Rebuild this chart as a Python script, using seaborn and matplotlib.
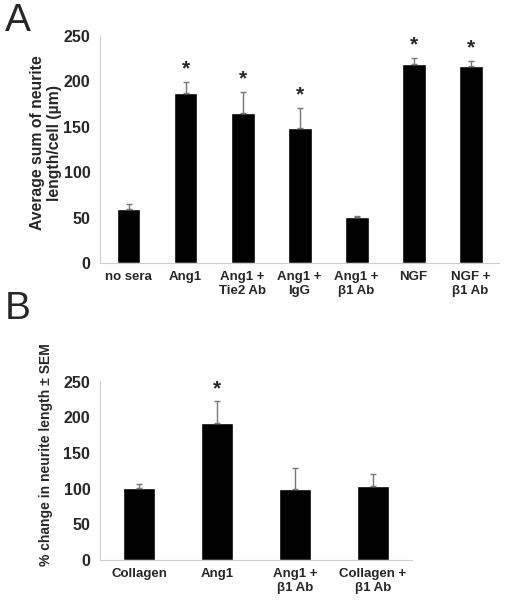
import numpy as np
import seaborn as sns
import matplotlib.pyplot as plt

# panel A data
a_labels = ["no sera", "Ang1", "Ang1 +\nTie2 Ab", "Ang1 +\nIgG", "Ang1 +\nβ1 Ab", "NGF", "NGF +\nβ1 Ab"]
a_means = [59, 187, 165, 149, 51, 219, 217]
a_err = [6, 12, 23, 22, 1, 7, 5]
a_star = [False, True, True, True, False, True, True]

# panel B data
b_labels = ["Collagen", "Ang1", "Ang1 +\nβ1 Ab", "Collagen +\nβ1 Ab"]
b_means = [101, 192, 99, 104]
b_err = [6, 31, 30, 17]
b_star = [False, True, False, False]

sns.set_style("white")
plt.rcParams["font.family"] = ["Liberation Sans", "DejaVu Sans"]

fig = plt.figure(figsize=(5.11, 6.01), dpi=100)
axA = fig.add_axes([0.1957, 0.5624, 0.781, 0.3777])
axB = fig.add_axes([0.1957, 0.0682, 0.6106, 0.2967])


def draw(ax, labels, means, err, star):
    n = len(labels)
    sns.barplot(x=labels, y=means, color="black", width=0.42, ax=ax, saturation=1)
    ax.errorbar(np.arange(n), means, yerr=[np.zeros(n), err], fmt="none",
                ecolor="#777777", elinewidth=1, capsize=2.5, capthick=1)
    for i in range(n):
        if star[i]:
            ax.text(i, means[i] + err[i] + 4, "*", ha="center", va="bottom",
                    fontsize=15, fontweight="bold")
    ax.set_xlim(-0.5, n - 0.5)
    ax.set_ylim(0, 250)
    ax.set_yticks([0, 50, 100, 150, 200, 250])
    ax.set_xticks(np.arange(-0.5, n), minor=True)
    ax.tick_params(axis="x", which="major", length=0, pad=6, labelsize=9.5)
    ax.tick_params(axis="x", which="minor", length=4, color="#bbbbbb", direction="out")
    ax.tick_params(axis="y", length=3, color="#bbbbbb", direction="out", labelsize=11.5, pad=4)
    for t in ax.get_xticklabels() + ax.get_yticklabels():
        t.set_fontweight("bold")
    for s in ["top", "right"]:
        ax.spines[s].set_visible(False)
    for s in ["left", "bottom"]:
        ax.spines[s].set_color("#cccccc")
        ax.spines[s].set_linewidth(0.8)


draw(axA, a_labels, a_means, a_err, a_star)
draw(axB, b_labels, b_means, b_err, b_star)

axA.set_ylabel("Average sum of neurite\nlength/cell (µm)", fontsize=11.3, fontweight="bold")
axA.yaxis.set_label_coords(-0.095, 0.53)
axB.set_ylabel("% change in neurite length ± SEM", fontsize=10, fontweight="bold")
axB.yaxis.set_label_coords(-0.15, 0.59)

fig.text(0.01, 0.995, "A", fontsize=28, va="top", ha="left")
fig.text(0.01, 0.515, "B", fontsize=28, va="top", ha="left")

fig.savefig("out.png", dpi=100)
